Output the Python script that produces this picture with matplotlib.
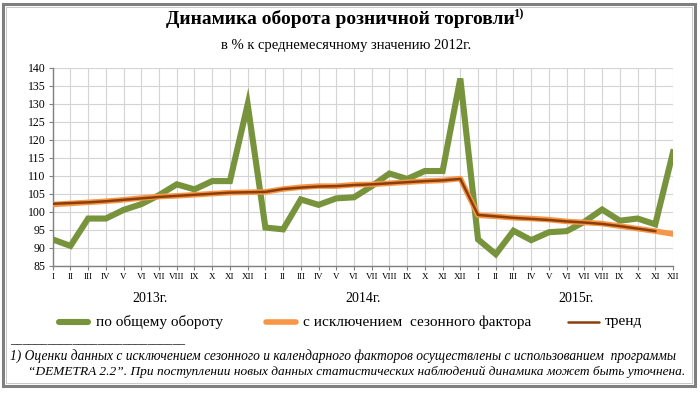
import numpy as np
import matplotlib
matplotlib.use("Agg")
import matplotlib.pyplot as plt
from matplotlib.lines import Line2D
from matplotlib.patches import Rectangle

months = ['I', 'II', 'III', 'IV', 'V', 'VI', 'VII', 'VIII', 'IX', 'X', 'XI', 'XII'] * 3
years = ['2013г.', '2014г.', '2015г.']

total = [92.3, 90.5, 98.1, 98.1, 100.5, 102.1, 104.6, 107.6, 106.2, 108.5, 108.5, 129.8,
         95.6, 95.1, 103.4, 101.9, 103.7, 104.0, 107.1, 110.6, 109.1, 111.3, 111.3, 137.0,
         92.3, 88.2, 94.7, 92.1, 94.3, 94.6, 97.2, 100.6, 97.5, 98.1, 96.5, 116.5]

seasonal = [102.0, 102.3, 102.6, 102.9, 103.3, 103.8, 104.2, 104.4, 104.7, 105.0, 105.3, 105.4,
            105.5, 106.3, 106.8, 107.1, 107.1, 107.5, 107.6, 107.9, 108.2, 108.5, 108.7, 109.2,
            99.0, 98.7, 98.3, 98.1, 97.8, 97.3, 97.0, 96.7, 96.0, 95.3, 94.6, 93.8]

trend = [102.2, 102.4, 102.6, 102.9, 103.3, 103.7, 104.1, 104.4, 104.7, 105.0, 105.3, 105.4,
         105.5, 106.3, 106.7, 107.0, 107.1, 107.4, 107.6, 107.9, 108.2, 108.5, 108.7, 109.1,
         99.1, 98.7, 98.3, 98.0, 97.7, 97.3, 97.0, 96.6, 96.0, 95.3, 94.6, np.nan]

labels = ['по общему обороту', 'с исключением  сезонного фактора', 'тренд']
title = 'Динамика оборота розничной торговли'
subtitle = 'в % к среднемесячному значению 2012г.'
foot1 = '1) Оценки данных с исключением сезонного и календарного факторов осуществлены с использованием  программы'
foot2 = '“DEMETRA 2.2”. При поступлении новых данных статистических наблюдений динамика может быть уточнена.'

c_green = '#77933C'
c_orange = '#F79646'
c_brown = '#8B3E0B'

serif = ['Liberation Serif', 'DejaVu Serif']
plt.rcParams['font.family'] = serif

W, H = 700, 394
fig = plt.figure(figsize=(W / 100, H / 100), dpi=100)
fig.patch.set_facecolor('white')

ax = fig.add_axes([52.7 / W, 1 - 265.7 / H, (673 - 52.7) / W, (265.7 - 67.7) / H])
x = np.arange(len(months))
ax.plot(x, total, color=c_green, lw=4.4, solid_joinstyle='miter', zorder=3)
ax.plot(x, seasonal, color=c_orange, lw=4.0, zorder=4)
ax.plot(x, trend, color=c_brown, lw=1.8, zorder=5)

ax.set_xlim(0, len(months) - 1)
ax.set_ylim(85, 140)
ax.set_yticks(np.arange(85, 141, 5))
ax.set_xticks(x)
ax.set_xticklabels(months, fontsize=6.5)
ax.tick_params(axis='y', labelsize=8.5, length=3, width=0.8, color='#808080', pad=2)
ax.tick_params(axis='x', length=3, width=0.8, color='#808080', pad=2)
ax.grid(True, color='#d4d4d4', lw=0.8)
ax.set_axisbelow(True)
for s in ['top', 'right']:
    ax.spines[s].set_visible(False)
for s in ['left', 'bottom']:
    ax.spines[s].set_color('#808080')
    ax.spines[s].set_linewidth(1.0)

# year labels under the month groups
for i, yl in enumerate(years):
    ax.text(i * 12 + 5.5, -0.165, yl, transform=ax.get_xaxis_transform(),
            ha='center', va='center', fontsize=10)

# title with superscript
t = fig.text(0.5 - 10 / W, 1 - 19 / H, title, ha='center', va='center', fontsize=14,
             fontweight='bold')
fig.canvas.draw()
bb = t.get_window_extent()
fig.text((bb.x1 - 1) / W, 1 - 14 / H, '1)', ha='left', va='center', fontsize=9, fontweight='bold')
fig.text(0.5 - 4 / W, 1 - 45 / H, subtitle, ha='center', va='center', fontsize=10.5)

# legend (manual)
ly = 1 - 322 / H
items = [(59, 88, 96, c_green, 4.4), (266, 296, 303, c_orange, 4.0), (568, 599, 605, c_brown, 1.8)]
for (x0, x1, tx, c, lw), lab in zip(items, labels):
    fig.add_artist(Line2D([x0 / W, x1 / W], [ly, ly], color=c, lw=lw, solid_capstyle='round',
                          transform=fig.transFigure))
    fig.text(tx / W, ly, lab, ha='left', va='center', fontsize=11)

# footnote
fig.text(10 / W, 1 - 340 / H, '_' * 28, ha='left', va='center', fontsize=9)
fig.text(10 / W, 1 - 356 / H, foot1, ha='left', va='center', fontsize=9.75, style='italic')
fig.text(28 / W, 1 - 372 / H, foot2, ha='left', va='center', fontsize=9.65, style='italic')

# frame
fig.add_artist(Rectangle((3 / W, 1 - 386 / H), 692 / W, 382 / H, transform=fig.transFigure,
                         fill=False, edgecolor='#7f7f7f', lw=2.2))
fig.add_artist(Rectangle((6 / W, 1 - 383 / H), 686 / W, 376 / H, transform=fig.transFigure,
                         fill=False, edgecolor='#bfbfbf', lw=0.6))

fig.savefig('out.png', dpi=100)
